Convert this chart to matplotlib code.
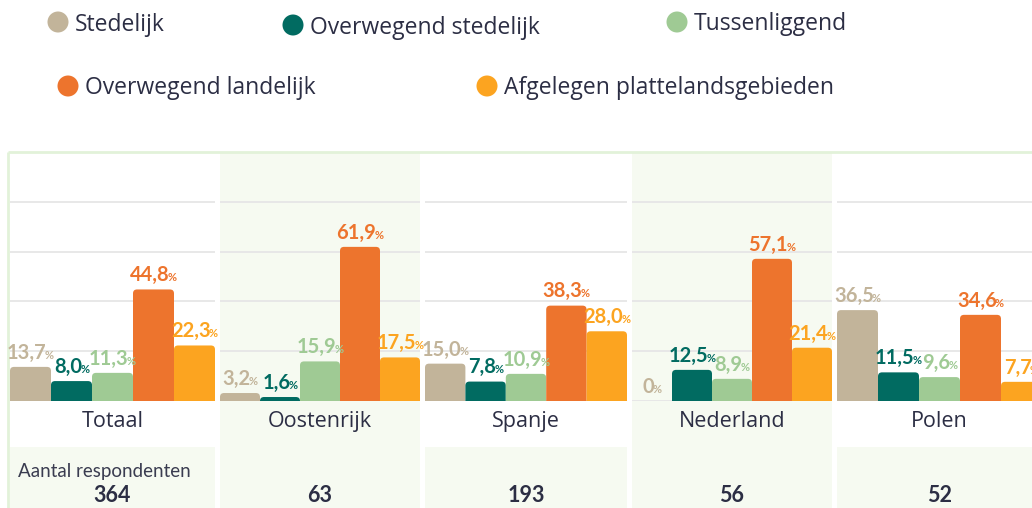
import matplotlib
matplotlib.use("Agg")
import matplotlib.pyplot as plt
from matplotlib.patches import Circle, Rectangle, FancyBboxPatch
from matplotlib.offsetbox import TextArea, HPacker, AnnotationBbox

# data
categories = ["Totaal", "Oostenrijk", "Spanje", "Nederland", "Polen"]
respondents = [364, 63, 193, 56, 52]
series_names = ["Stedelijk", "Overwegend stedelijk", "Tussenliggend",
                "Overwegend landelijk", "Afgelegen plattelandsgebieden"]
stedelijk = [13.7, 3.2, 15.0, 0.0, 36.5]
overwegend_stedelijk = [8.0, 1.6, 7.8, 12.5, 11.5]
tussenliggend = [11.3, 15.9, 10.9, 8.9, 9.6]
overwegend_landelijk = [44.8, 61.9, 38.3, 57.1, 34.6]
afgelegen = [22.3, 17.5, 28.0, 21.4, 7.7]
series = [stedelijk, overwegend_stedelijk, tussenliggend,
          overwegend_landelijk, afgelegen]
colors = ["#c2b49a", "#016b61", "#9fca94", "#ed742d", "#fca420"]

W, H = 1032, 508
NAVY = "#2c2e44"
PALE = "#f6faf1"
BORDER = "#e2f2d9"

# layout in pixels
col_x = [10, 220, 425, 632, 837]
col_w = [205, 200, 202, 200, 205]
shaded = [False, True, False, True, False]
top_px, base_px = 152, 401

fig = plt.figure(figsize=(W / 100, H / 100), dpi=100)
bg = fig.add_axes([0, 0, 1, 1])
bg.set_xlim(0, W)
bg.set_ylim(H, 0)
bg.axis("off")

# legend
legend_pos = [(58, 22, 31), (293, 25, 34), (677, 22, 30), (68, 86, 94), (487, 86, 94)]
for name, col, (mx, my, base) in zip(series_names, colors, legend_pos):
    bg.add_patch(Circle((mx, my), 10.5, color=col, lw=0))
    bg.text(mx + 17, base, name, fontsize=16.5, family="Open Sans", color=NAVY,
            va="baseline", ha="left")

# column backgrounds
for x0, w, sh in zip(col_x, col_w, shaded):
    if sh:
        bg.add_patch(Rectangle((x0, top_px), w, H - top_px, color=PALE, lw=0))
    else:
        bg.add_patch(Rectangle((x0, 447), w, H - 447, color=PALE, lw=0))

# outer frame
bg.plot([8, W], [152, 152], color=BORDER, lw=2, solid_capstyle="butt")
bg.plot([8, 8], [152, H], color=BORDER, lw=2, solid_capstyle="butt")


def fmt(v):
    if v == 0:
        return "0"
    return f"{v:.1f}".replace(".", ",")


r_px = 4
for i, cat in enumerate(categories):
    x0, w = col_x[i], col_w[i]
    ax = fig.add_axes([x0 / W, 1 - base_px / H, w / W, (base_px - top_px) / H])
    ax.set_xlim(-0.5, 4.5)
    ax.set_ylim(0, 100)
    ax.axis("off")
    for g in [0, 20, 40, 60, 80]:
        ax.axhline(g, color="#e6e6e6", lw=1.3, zorder=0)

    vals = [s[i] for s in series]
    bars = ax.bar(range(5), vals, width=1.0, color=colors, zorder=2)
    px_x = w / 5.0
    px_y = (base_px - top_px) / 100.0
    r = r_px / px_x
    aspect = px_x / px_y
    for b, col in zip(bars, colors):
        bx, by, bw, bh = b.get_x(), b.get_y(), b.get_width(), b.get_height()
        b.set_visible(False)
        if bh <= 0:
            continue
        ry = r * aspect
        p = FancyBboxPatch((bx, by - ry), bw, bh + ry,
                           boxstyle=f"round,pad=0,rounding_size={r}",
                           mutation_aspect=aspect, color=col, lw=0, zorder=2)
        ax.add_patch(p)

    for j, (v, col) in enumerate(zip(vals, colors)):
        num = TextArea(fmt(v), textprops=dict(fontsize=14.5, family="Lato",
                                               weight="bold", color=col))
        pct = TextArea("%", textprops=dict(fontsize=8, family="Lato",
                                            weight="bold", color=col))
        box = HPacker(children=[num, pct], align="baseline", pad=0, sep=-1.2)
        ab = AnnotationBbox(box, (j, v), xybox=(0, 3), xycoords="data",
                            boxcoords="offset points", box_alignment=(0.5, 0),
                            frameon=False, pad=0, annotation_clip=False)
        ax.add_artist(ab)

    cx = x0 + w / 2
    bg.text(cx, 427, cat, fontsize=15.5, family="Open Sans", color=NAVY,
            ha="center", va="baseline")
    bg.text(cx, 502, str(respondents[i]), fontsize=15.5, family="Lato",
            weight="bold", color=NAVY, ha="center", va="baseline")

bg.text(18, 477, "Aantal respondenten", fontsize=13.5, family="Lato",
        weight="normal", color="#3a3c50", ha="left", va="baseline")

fig.savefig("out.png", dpi=100)
